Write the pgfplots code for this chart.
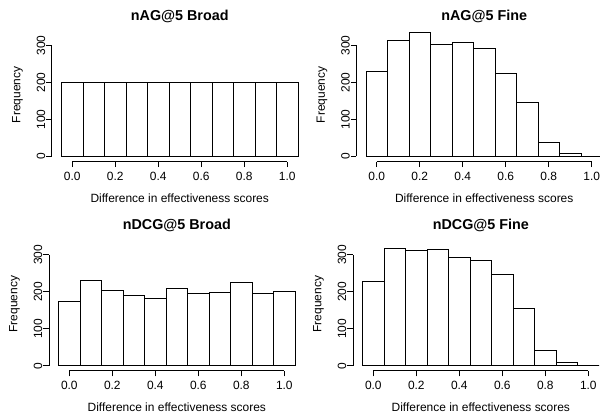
\documentclass[border=0pt]{standalone}
\usepackage{fontspec}
\setmainfont{Liberation Sans}
\usepackage{pgfplots}
\pgfplotsset{compat=1.18}
\pgfplotsset{
  every axis title shift=0pt,
  rhist/.style={
    anchor=south west,
    x=215bp, y=0.37bp,
    xmin=-0.095, xmax=1.095, ymin=-14, ymax=347,
    clip=false,
    axis line style={draw=none},
    tick pos=left, tick align=outside,
    major tick length=5.5bp,
    major tick style={black, line width=0.8bp},
    xtick={0,0.2,0.4,0.6,0.8,1},
    xticklabels={0.0,0.2,0.4,0.6,0.8,1.0},
    ytick={0,100,200,300},
    yticklabels={0,100,200,300},
    /pgf/number format/assume math mode=true,
    tick label style={font=\fontsize{12}{14}\selectfont},
    xticklabel style={anchor=base, yshift=-13.5bp},
    yticklabel style={xshift=-1.2bp, rotate=90, anchor=base},
    xlabel={Difference in effectiveness scores},
    ylabel={Frequency},
    x label style={at={(axis description cs:0.5,-0.304)}, anchor=base, font=\fontsize{12}{14}\selectfont},
    y label style={at={(axis description cs:-0.123,0.5)}, anchor=base, font=\fontsize{12}{14}\selectfont},
    title style={at={(axis description cs:0.5,1.057)}, anchor=base, yshift=0pt, font=\bfseries\fontsize{14.4}{17}\selectfont},
  },
  rbar/.style={ybar interval, fill=white, draw=black, line width=0.8bp},
  raxis/.style={black, line width=0.8bp, no markers, forget plot},
}
\begin{document}
\begin{tikzpicture}
\path[use as bounding box] (0,0) rectangle (600bp,419bp);

% top-left
\begin{axis}[rhist, at={(51.8bp,257.4bp)}, title={nAG@5 Broad}]
\addplot[raxis] coordinates {(0,-14) (1,-14)};
\addplot[raxis] coordinates {(-0.095,0) (-0.095,300)};
\addplot[rbar] coordinates {
(-0.05,200) (0.05,200) (0.15,200) (0.25,200) (0.35,200) (0.45,200)
(0.55,200) (0.65,200) (0.75,200) (0.85,200) (0.95,200) (1.05,200)};
\end{axis}

% top-right
\begin{axis}[rhist, at={(356.3bp,257.4bp)}, title={nAG@5 Fine}]
\addplot[raxis] coordinates {(0,-14) (1,-14)};
\addplot[raxis] coordinates {(-0.095,0) (-0.095,300)};
\addplot[rbar] coordinates {
(-0.05,231) (0.05,313) (0.15,335) (0.25,304) (0.35,307) (0.45,293)
(0.55,224) (0.65,147) (0.75,38) (0.85,8) (0.95,0) (1.05,0)};
\end{axis}

% bottom-left
\begin{axis}[rhist, at={(48.9bp,48.1bp)}, title={nDCG@5 Broad}]
\addplot[raxis] coordinates {(0,-14) (1,-14)};
\addplot[raxis] coordinates {(-0.095,0) (-0.095,300)};
\addplot[rbar] coordinates {
(-0.05,173) (0.05,230) (0.15,204) (0.25,191) (0.35,181) (0.45,209)
(0.55,195) (0.65,198) (0.75,224) (0.85,195) (0.95,200) (1.05,200)};
\end{axis}

% bottom-right
\begin{axis}[rhist, at={(352.9bp,48.1bp)}, title={nDCG@5 Fine}]
\addplot[raxis] coordinates {(0,-14) (1,-14)};
\addplot[raxis] coordinates {(-0.095,0) (-0.095,300)};
\addplot[rbar] coordinates {
(-0.05,228) (0.05,317) (0.15,311) (0.25,315) (0.35,293) (0.45,284)
(0.55,247) (0.65,154) (0.75,42) (0.85,9) (0.95,0) (1.05,0)};
\end{axis}
\end{tikzpicture}
\end{document}
